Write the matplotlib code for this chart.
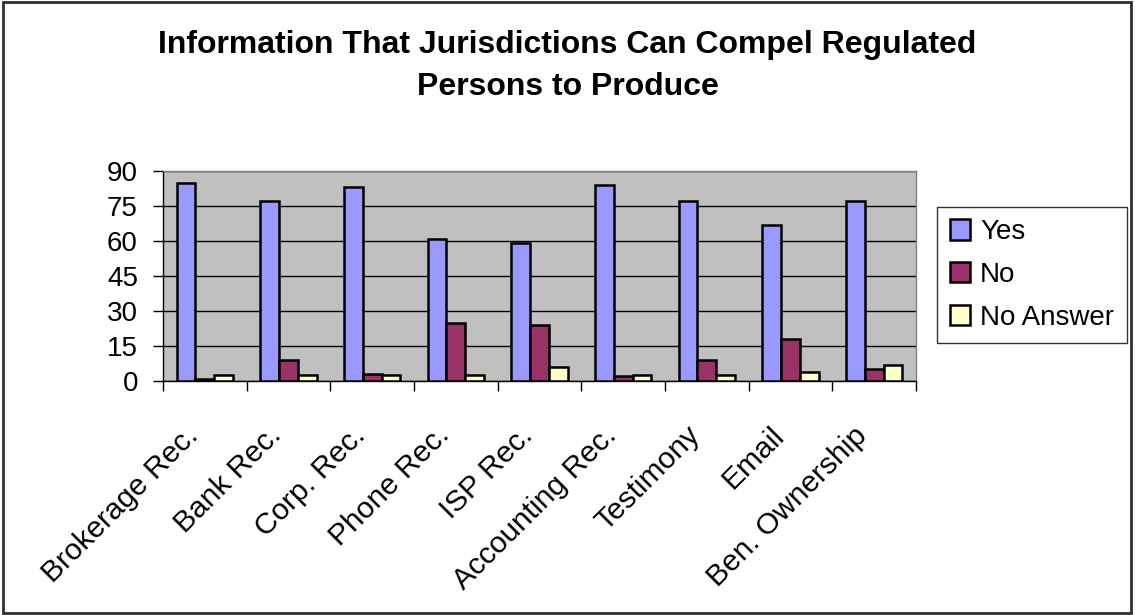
import matplotlib.pyplot as plt
import matplotlib.transforms as mtransforms
import numpy as np
from matplotlib.patches import Rectangle

plt.rcParams['font.family'] = ['Liberation Sans', 'DejaVu Sans']

categories = ["Brokerage Rec.", "Bank Rec.", "Corp. Rec.", "Phone Rec.", "ISP Rec.",
              "Accounting Rec.", "Testimony", "Email", "Ben. Ownership"]
yes_values = [85, 77, 83, 61, 59, 84, 77, 67, 77]
no_values = [1, 9, 3, 25, 24, 2, 9, 18, 5]
no_answer_values = [2.5, 2.5, 2.5, 2.5, 6, 2.5, 2.5, 4, 7]
series_names = ["Yes", "No", "No Answer"]
y_ticks = [0, 15, 30, 45, 60, 75, 90]


def main():
    fig = plt.figure(figsize=(11.35, 6.15), dpi=100)
    ax = fig.add_axes([163/1135, 1 - 381/615, (916 - 163)/1135, (381 - 171)/615])

    x = np.arange(len(categories))
    width = 0.225
    colors = ['#9999FF', '#993366', '#FFFFCC']
    for i, (vals, name) in enumerate(zip([yes_values, no_values, no_answer_values], series_names)):
        ax.bar(x + (i - 1) * width, vals, width, color=colors[i], edgecolor='black',
               linewidth=1.8, label=name, zorder=3)

    ax.set_facecolor('#C0C0C0')
    ax.set_xlim(-0.5, len(categories) - 0.5)
    ax.set_ylim(0, 90)
    ax.set_yticks(y_ticks)
    ax.set_yticklabels([str(t) for t in y_ticks], fontsize=20)
    ax.yaxis.grid(True, color='black', linewidth=1.0, zorder=0)
    ax.set_axisbelow(True)

    # category labels at centres, tick marks at boundaries
    ax.set_xticks(x)
    ax.set_xticklabels(categories, fontsize=21.5, rotation=45, ha='right', va='top',
                       rotation_mode='anchor')
    ax.tick_params(axis='x', which='major', length=0, pad=29)
    shift = mtransforms.ScaledTranslation(-21/100, 0, fig.dpi_scale_trans)
    for lbl in ax.get_xticklabels():
        lbl.set_transform(lbl.get_transform() + shift)
    ax.set_xticks(np.arange(len(categories) + 1) - 0.5, minor=True)
    ax.tick_params(axis='x', which='minor', length=7, width=1, color='black')
    ax.tick_params(axis='y', length=7, width=1, pad=11)

    for side in ['top', 'right']:
        ax.spines[side].set_color('#808080')
        ax.spines[side].set_linewidth(1.0)
    for side in ['left', 'bottom']:
        ax.spines[side].set_color('black')
        ax.spines[side].set_linewidth(1.0)

    fig.text(0.5, 1 - 66/615, "Information That Jurisdictions Can Compel Regulated\nPersons to Produce",
             ha='center', va='center', fontsize=23, fontweight='bold', linespacing=1.5)

    leg = fig.legend(loc='center left', bbox_to_anchor=(937/1135, 1 - 275/615), fontsize=20,
                     frameon=True, fancybox=False, edgecolor='black', handlelength=0.75,
                     handleheight=0.75, handletextpad=0.35, labelspacing=0.6, borderpad=0.45,
                     borderaxespad=0)
    leg.get_frame().set_linewidth(1.0)

    fig.patches.append(Rectangle((3/1135, 2/615), 1128/1135, 611/615, transform=fig.transFigure,
                                 fill=False, edgecolor='#303030', linewidth=2))

    fig.savefig('out.png', dpi=100)


if __name__ == "__main__":
    main()
